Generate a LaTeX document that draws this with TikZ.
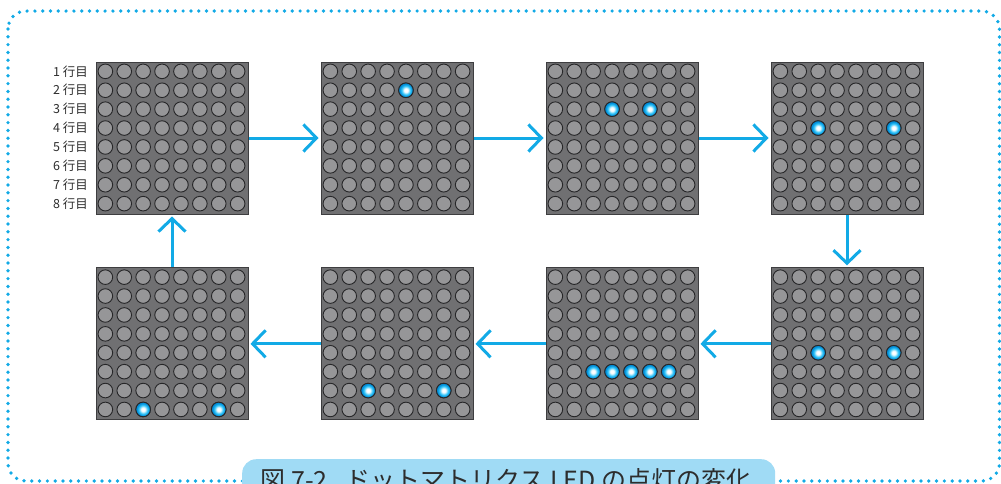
\documentclass[tikz,border=0pt]{standalone}
\usepackage{fontspec}
\newfontfamily\jp{Noto Sans CJK JP}
\usetikzlibrary{arrows.meta}

\definecolor{flowblue}{RGB}{18,170,230}
\definecolor{panelgray}{RGB}{112,112,114}
\definecolor{paneledge}{RGB}{62,62,64}
\definecolor{ledoff}{RGB}{150,150,152}
\definecolor{ledring}{RGB}{38,38,40}
\definecolor{ledcyan}{RGB}{45,195,248}
\definecolor{leddeep}{RGB}{0,140,215}
\definecolor{captionfill}{RGB}{160,219,245}
\definecolor{captiontext}{RGB}{45,45,45}

% glowing LED: white core fading to cyan
\pgfdeclareradialshading{ledon}{\pgfpoint{0bp}{0bp}}{%
  color(0bp)=(white); color(6bp)=(white); color(15bp)=(ledcyan);
  color(22bp)=(leddeep); color(25bp)=(leddeep); color(50bp)=(leddeep)}

\tikzset{
  panel/.style={rectangle, minimum size=152pt, inner sep=0pt,
    fill=panelgray, draw=paneledge, line width=1pt},
  ledunlit/.style={circle, minimum size=14.6pt, inner sep=0pt,
    fill=ledoff, draw=ledring, line width=0.9pt},
  ledlit/.style={circle, minimum size=14.6pt, inner sep=0pt,
    shading=ledon, draw=ledring, line width=0.9pt},
  flow/.style={draw=flowblue, line width=3pt,
    -{Straight Barb[length=13pt, width=27pt]}, shorten >=2pt},
  rowlabel/.style={anchor=base east, inner sep=0pt, text=captiontext,
    font=\jp\fontsize{12.5}{12.5}\selectfont},
  border/.style={draw=flowblue, line width=3.7pt, line cap=round,
    dash pattern=on 0pt off 7.8pt, rounded corners=18pt},
}

% \ledpanel{name}{left}{top}: 8x8 panel with all LEDs off
\newcommand\ledpanel[3]{%
  \node[panel, anchor=north west] (#1) at (#2,#3) {};
  \foreach \r in {0,...,7}{%
    \foreach \c in {0,...,7}{%
      \node[ledunlit] (#1-\r-\c) at (#2+9.85+18.9*\c, #3+9.85+18.9*\r) {};
    }%
  }%
}
% \ledson{name}{left}{top}{row/col list}: switch on some LEDs
\newcommand\ledson[4]{%
  \foreach \r/\c in {#4}{%
    \node[ledlit] (#1-on-\r-\c) at (#2+9.85+18.9*\c, #3+9.85+18.9*\r) {};
  }%
}

\begin{document}
\begin{tikzpicture}[x=1pt, y=-1pt]
  \useasboundingbox (0,0) rectangle (1001,483);
  \clip (0,0) rectangle (1001,483);

  % dotted frame
  \draw[border] (8,11) rectangle (999.5,481);

  % top row, left to right
  \ledpanel{m1}{95.5}{61.5}
  \ledpanel{m2}{320.5}{61.5}
  \ledson{m2}{320.5}{61.5}{1/4}
  \ledpanel{m3}{545.5}{61.5}
  \ledson{m3}{545.5}{61.5}{2/3, 2/5}
  \ledpanel{m4}{770.5}{61.5}
  \ledson{m4}{770.5}{61.5}{3/2, 3/6}

  % bottom row, right to left
  \ledpanel{m5}{770.5}{267.3}
  \ledson{m5}{770.5}{267.3}{4/2, 4/6}
  \ledpanel{m6}{545.5}{267.3}
  \ledson{m6}{545.5}{267.3}{5/2, 5/3, 5/4, 5/5, 5/6}
  \ledpanel{m7}{320.5}{267.3}
  \ledson{m7}{320.5}{267.3}{6/2, 6/6}
  \ledpanel{m8}{95.5}{267.3}
  \ledson{m8}{95.5}{267.3}{7/2, 7/6}

  % row labels
  \foreach \r in {0,...,7}{%
    \pgfmathtruncatemacro\rownum{\r+1}
    \node[rowlabel] (row\rownum) at (88, 61.5+9.85+18.9*\r+4.7)
      {\rownum\hspace{0.22em}行目};
  }

  % sequence arrows
  \draw[flow] (m1.east) -- (m2.west);
  \draw[flow] (m2.east) -- (m3.west);
  \draw[flow] (m3.east) -- (m4.west);
  \draw[flow] (m4.south) -- (m5.north);
  \draw[flow] (m5.west) -- (m6.east);
  \draw[flow] (m6.west) -- (m7.east);
  \draw[flow] (m7.west) -- (m8.east);
  \draw[flow] (m8.north) -- (m1.south);

  % caption tab
  \node[rectangle, rounded corners=14pt, fill=captionfill, inner sep=0pt,
        minimum width=533pt, minimum height=60pt, anchor=north west]
        (captionbox) at (242,459) {};
  \node[anchor=base, inner sep=0pt, text=captiontext,
        font=\jp\fontsize{25}{25}\selectfont]
        (captiontext) at (506,489)
        {図 7-2\hspace{0.7em}ドットマトリクス LED の点灯の変化};
\end{tikzpicture}
\end{document}
